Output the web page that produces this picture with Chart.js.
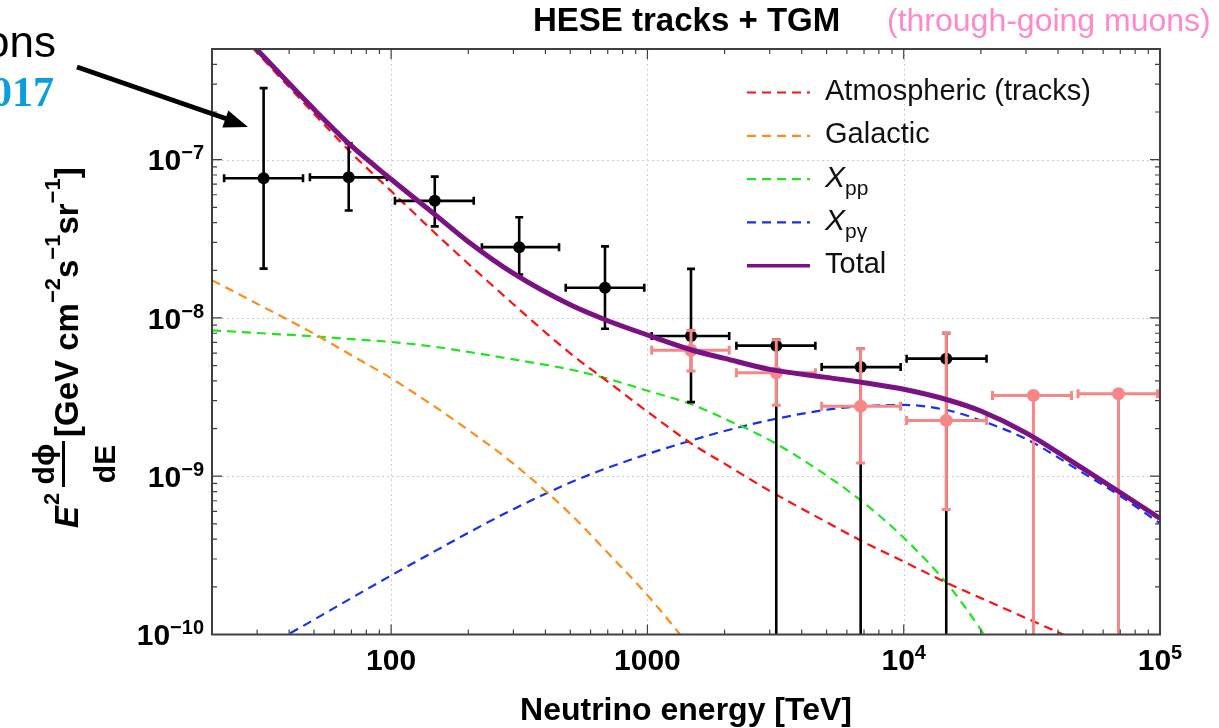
<!DOCTYPE html>
<html>
<head>
<meta charset="utf-8">
<script src="https://cdn.jsdelivr.net/npm/chart.js@4.4.1/dist/chart.umd.min.js"></script>
<style>
  html, body { margin: 0; padding: 0; background: #fff; }
  #wrap { position: relative; width: 1219px; height: 728px; }
</style>
</head>
<body>
<div id="wrap"><canvas id="chart"></canvas></div>
<script>
const energyGrid = [20, 30, 50, 70, 100, 150, 200, 300, 500, 700, 1000, 1500, 2000, 3000, 5000, 7000, 1e4, 1.5e4, 2e4, 3e4, 5e4, 7e4, 1e5];

// E^2 dphi/dE model curves (GeV cm^-2 s^-1 sr^-1)
const atmospheric = [9.7e-7, 4.74e-7, 1.95e-7, 1.10e-7, 6.33e-8, 3.38e-8, 2.20e-8, 1.22e-8, 5.97e-9, 3.96e-9, 2.56e-9, 1.59e-9, 1.20e-9, 8.08e-10, 5.13e-10, 3.83e-10, 2.89e-10, 2.09e-10, 1.70e-10, 1.27e-10, 8.8e-11, 6.9e-11, 5.4e-11];
const galactic = [1.73e-8, 1.23e-8, 7.95e-9, 5.81e-9, 4.16e-9, 2.71e-9, 1.96e-9, 1.20e-9, 5.78e-10, 3.28e-10, 1.77e-10, 8.0e-11, 4.5e-11, null, null, null, null, null, null, null, null, null, null];
const xpp = [8.35e-9, 8.03e-9, 7.65e-9, 7.35e-9, 7.05e-9, 6.55e-9, 6.10e-9, 5.47e-9, 4.72e-9, 4.13e-9, 3.47e-9, 2.83e-9, 2.31e-9, 1.69e-9, 1.01e-9, 6.77e-10, 4.09e-10, 2.03e-10, 1.07e-10, 3.75e-11, null, null, null];
const xpg = [5.33e-11, 7.76e-11, 1.24e-10, 1.70e-10, 2.36e-10, 3.40e-10, 4.39e-10, 6.19e-10, 9.12e-10, 1.13e-9, 1.38e-9, 1.69e-9, 1.93e-9, 2.26e-9, 2.63e-9, 2.77e-9, 2.82e-9, 2.60e-9, 2.25e-9, 1.72e-9, 1.05e-9, 7.49e-10, 5.03e-10];
const total = [1.0e-6, 4.95e-7, 2.08e-7, 1.22e-7, 7.52e-8, 4.43e-8, 3.03e-8, 1.91e-8, 1.21e-8, 9.60e-9, 7.80e-9, 6.25e-9, 5.55e-9, 4.73e-9, 4.21e-9, 3.90e-9, 3.54e-9, 3.02e-9, 2.58e-9, 1.88e-9, 1.12e-9, 7.89e-10, 5.41e-10];

// HESE tracks (black points)
const heseE = [31.8, 68.3, 148, 316, 683, 1479, 3182, 6792, 14656];
const heseELo = [22.3, 48.2, 103.5, 226, 480, 1039, 2224, 4785, 10264];
const heseEHi = [45.3, 96.3, 210, 452, 972, 2085, 4522, 9727, 21045];
const heseFlux = [7.62e-8, 7.73e-8, 5.49e-8, 2.80e-8, 1.55e-8, 7.68e-9, 6.68e-9, 4.89e-9, 5.53e-9];
const heseUp = [2.83e-7, 1.27e-7, 7.81e-8, 4.33e-8, 2.83e-8, 2.04e-8, 7.31e-9, 6.39e-9, 8.02e-9];
const heseDown = [2.05e-8, 4.77e-8, 3.79e-8, 1.88e-8, 8.55e-9, 2.94e-9, 1e-11, 1e-11, 1e-11];

// through-going muons (pink points)
const tgmE = [1479, 3182, 6792, 14656, 32080, 68860];
const tgmELo = [1039, 2224, 4785, 10264, 22200, 47880];
const tgmEHi = [2085, 4522, 9727, 21045, 45190, 97760];
const tgmFlux = [6.24e-9, 4.51e-9, 2.77e-9, 2.25e-9, 3.24e-9, 3.32e-9];
const tgmUp = [8.34e-9, 7.28e-9, 6.39e-9, 8.02e-9, null, null];
const tgmDown = [4.62e-9, 2.81e-9, 1.21e-9, 6.17e-10, 1e-11, 1e-11];

// axis ticks
const xMajorTicks = [100, 1000, 1e4, 1e5];
const xTickLabels = [['100'], ['1000'], ['10', '4'], ['10', '5']];
const yMajorTicks = [1e-10, 1e-9, 1e-8, 1e-7];
const yTickLabels = [['10', '\u221210'], ['10', '\u22129'], ['10', '\u22128'], ['10', '\u22127']];

const SANS = '"Liberation Sans", Arial, Helvetica, sans-serif';
const PINK = '#f78787';
const DASH = [9, 6];

function curve(values) {
    return energyGrid.map((e, i) => ({ x: e, y: values[i] }));
}
function points(es, fs) {
    return es.map((e, i) => ({ x: e, y: fs[i] }));
}

// draw a list of text pieces one after the other, returns the width
function drawRuns(ctx, runs, x, y, measureOnly) {
    let cx = x;
    runs.forEach(r => {
        ctx.font = r.font;
        if (!measureOnly) ctx.fillText(r.text, cx, y + (r.dy || 0));
        cx += ctx.measureText(r.text).width + (r.gap || 0);
    });
    return cx - x;
}

function powRuns(parts, size, expSize, raise) {
    const runs = [{ text: parts[0], font: `bold ${size}px ${SANS}` }];
    if (parts[1]) runs.push({ text: parts[1], font: `bold ${expSize}px ${SANS}`, dy: -raise });
    return runs;
}

const errorBars = {
    id: 'errorBars',
    beforeDatasetDraw(chart, args) {
        const ds = chart.data.datasets[args.index];
        if (!ds.errors) return;
        const { ctx, chartArea: a } = chart;
        const xs = chart.scales.x, ys = chart.scales.y;
        const e = ds.errors;
        ctx.save();
        ctx.beginPath();
        ctx.rect(a.left, a.top, a.right - a.left, a.bottom - a.top);
        ctx.clip();
        ctx.strokeStyle = ds.backgroundColor;
        ctx.lineWidth = e.width;
        ctx.lineCap = 'butt';
        ds.data.forEach((p, i) => {
            const px = xs.getPixelForValue(p.x), py = ys.getPixelForValue(p.y);
            const x0 = xs.getPixelForValue(e.lo[i]), x1 = xs.getPixelForValue(e.hi[i]);
            ctx.beginPath();
            ctx.moveTo(x0, py); ctx.lineTo(x1, py);
            ctx.moveTo(x0, py - e.cap); ctx.lineTo(x0, py + e.cap);
            ctx.moveTo(x1, py - e.cap); ctx.lineTo(x1, py + e.cap);
            const yTop = e.up[i] != null ? ys.getPixelForValue(e.up[i]) : py;
            const yBot = ys.getPixelForValue(e.down[i]);
            ctx.moveTo(px, yTop); ctx.lineTo(px, yBot);
            if (e.up[i] != null) { ctx.moveTo(px - e.cap, yTop); ctx.lineTo(px + e.cap, yTop); }
            ctx.moveTo(px - e.cap, yBot); ctx.lineTo(px + e.cap, yBot);
            ctx.stroke();
        });
        ctx.restore();
    }
};

const legendItems = [
    { color: '#ff1010', dash: true, runs: [{ text: 'Atmospheric (tracks)' }] },
    { color: '#ff8c1a', dash: true, runs: [{ text: 'Galactic' }] },
    { color: '#1ee61e', dash: true, runs: [{ text: 'X', italic: true }, { text: 'pp', sub: true }] },
    { color: '#1530f0', dash: true, runs: [{ text: 'X', italic: true }, { text: 'p\u03b3', sub: true }] },
    { color: '#7b1283', dash: false, runs: [{ text: 'Total' }] }
];

const frameAndText = {
    id: 'frameAndText',
    beforeDatasetsDraw(chart) {
        const { ctx, chartArea: a } = chart;
        const xs = chart.scales.x, ys = chart.scales.y;
        ctx.save();
        ctx.strokeStyle = '#cdcdcd';
        ctx.lineWidth = 1;
        ctx.setLineDash([2, 3]);
        [100, 1000, 1e4].forEach(v => {
            const x = Math.round(xs.getPixelForValue(v)) + 0.5;
            ctx.beginPath(); ctx.moveTo(x, a.top); ctx.lineTo(x, a.bottom); ctx.stroke();
        });
        [1e-9, 1e-8, 1e-7].forEach(v => {
            const y = Math.round(ys.getPixelForValue(v)) + 0.5;
            ctx.beginPath(); ctx.moveTo(a.left, y); ctx.lineTo(a.right, y); ctx.stroke();
        });
        ctx.restore();
    },
    afterDraw(chart) {
        const { ctx, chartArea: a } = chart;
        const xs = chart.scales.x, ys = chart.scales.y;
        ctx.save();

        // frame and inner ticks
        ctx.strokeStyle = '#404040';
        ctx.lineWidth = 1.2;
        for (let d = 10; d <= 1e5; d *= 10) {
            for (let m = 1; m <= 9; m++) {
                const v = m * d;
                if (v < 20 || v > 1e5) continue;
                const x = xs.getPixelForValue(v);
                const len = m === 1 ? 10 : 5;
                ctx.beginPath();
                ctx.moveTo(x, a.bottom); ctx.lineTo(x, a.bottom - len);
                ctx.moveTo(x, a.top); ctx.lineTo(x, a.top + len);
                ctx.stroke();
            }
        }
        for (let d = 1e-10; d < 6e-7; d *= 10) {
            for (let m = 1; m <= 9; m++) {
                const v = m * d;
                if (v < 1e-10 || v > 5e-7) continue;
                const y = ys.getPixelForValue(v);
                const len = m === 1 ? 10 : 5;
                ctx.beginPath();
                ctx.moveTo(a.left, y); ctx.lineTo(a.left + len, y);
                ctx.moveTo(a.right, y); ctx.lineTo(a.right - len, y);
                ctx.stroke();
            }
        }
        ctx.lineWidth = 2;
        ctx.strokeRect(a.left, a.top, a.right - a.left, a.bottom - a.top);

        // tick labels
        ctx.fillStyle = '#000';
        ctx.textBaseline = 'alphabetic';
        ctx.textAlign = 'left';
        xMajorTicks.forEach((v, i) => {
            const runs = powRuns(xTickLabels[i], 30, 20, 11);
            const w = drawRuns(ctx, runs, 0, 0, true);
            drawRuns(ctx, runs, xs.getPixelForValue(v) - w / 2, 670);
        });
        yMajorTicks.forEach((v, i) => {
            const runs = powRuns(yTickLabels[i], 30, 20, 11);
            const w = drawRuns(ctx, runs, 0, 0, true);
            drawRuns(ctx, runs, 204 - w, ys.getPixelForValue(v) + 10.7);
        });

        // x axis title
        ctx.font = `bold 32px ${SANS}`;
        ctx.textAlign = 'center';
        ctx.fillText('Neutrino energy [TeV]', (a.left + a.right) / 2, 720);

        // chart title
        ctx.textAlign = 'left';
        ctx.font = `bold 33px ${SANS}`;
        ctx.fillText('HESE tracks + TGM', 533, 31);
        ctx.fillStyle = '#ff88cc';
        ctx.font = `32px ${SANS}`;
        ctx.fillText('(through-going muons)', 887, 31);

        // y axis title, rotated
        ctx.save();
        ctx.fillStyle = '#000';
        ctx.translate(78, 528);
        ctx.rotate(-Math.PI / 2);
        ctx.font = `italic bold 33px ${SANS}`;
        ctx.fillText('E', 0, 0);
        const wE = ctx.measureText('E').width;
        ctx.font = `bold 22px ${SANS}`;
        ctx.fillText('2', wE + 1, -19);
        const fx = 41, fw = 46;
        ctx.fillRect(fx, -16, fw, 3);
        ctx.font = `bold 30px ${SANS}`;
        ctx.textAlign = 'center';
        ctx.fillText('d\u03d5', fx + fw / 2, -24);
        ctx.fillText('dE', fx + fw / 2, 37);
        ctx.textAlign = 'left';
        const unitFont = `bold 33px ${SANS}`, expFont = `bold 22px ${SANS}`;
        drawRuns(ctx, [
            { text: '[GeV cm', font: unitFont },
            { text: '\u22122', font: expFont, dy: -18 },
            { text: 's', font: unitFont },
            { text: '\u22121', font: expFont, dy: -18 },
            { text: 'sr', font: unitFont },
            { text: '\u22121', font: expFont, dy: -18 },
            { text: ']', font: unitFont }
        ], 91, 0);
        ctx.restore();

        // legend inside the plot
        legendItems.forEach((item, i) => {
            const ly = 92.5 + i * 43.3;
            ctx.strokeStyle = item.color;
            ctx.lineWidth = item.dash ? 2.2 : 3.5;
            ctx.setLineDash(item.dash ? DASH : []);
            ctx.beginPath(); ctx.moveTo(747, ly); ctx.lineTo(810, ly); ctx.stroke();
            ctx.setLineDash([]);
            ctx.fillStyle = '#111';
            const runs = item.runs.map(r => ({
                text: r.text,
                font: r.sub ? `21px ${SANS}` : (r.italic ? `italic 30px ${SANS}` : `29px ${SANS}`),
                dy: r.sub ? 8 : 0
            }));
            drawRuns(ctx, runs, 825, ly + 7.5);
        });

        // fragments of the slide around the figure
        ctx.fillStyle = '#000';
        ctx.textAlign = 'right';
        ctx.font = `44px ${SANS}`;
        ctx.fillText('ons', 56, 57);
        ctx.fillStyle = '#0a9fdc';
        ctx.font = 'bold 42px "Liberation Serif", "Times New Roman", serif';
        ctx.fillText('017', 54, 106);

        // arrow
        ctx.strokeStyle = '#000';
        ctx.fillStyle = '#000';
        ctx.lineWidth = 5;
        ctx.beginPath(); ctx.moveTo(77, 67); ctx.lineTo(230, 120); ctx.stroke();
        const ang = Math.atan2(127 - 67, 248 - 77);
        ctx.save();
        ctx.translate(248, 127);
        ctx.rotate(ang);
        ctx.beginPath(); ctx.moveTo(0, 0); ctx.lineTo(-24, -9); ctx.lineTo(-24, 9); ctx.closePath(); ctx.fill();
        ctx.restore();

        ctx.restore();
    }
};

new Chart(document.getElementById('chart'), {
    type: 'line',
    data: {
        datasets: [
            { label: 'Total', data: curve(total), borderColor: '#7b1283', borderWidth: 5, pointRadius: 0, order: 0 },
            {
                type: 'scatter', label: 'TGM', data: points(tgmE, tgmFlux),
                backgroundColor: PINK, borderColor: PINK, pointRadius: 6.5, borderWidth: 0, order: 1,
                errors: { lo: tgmELo, hi: tgmEHi, up: tgmUp, down: tgmDown, width: 3, cap: 4.5 }
            },
            {
                type: 'scatter', label: 'HESE tracks', data: points(heseE, heseFlux),
                backgroundColor: '#000', borderColor: '#000', pointRadius: 6, borderWidth: 0, order: 2,
                errors: { lo: heseELo, hi: heseEHi, up: heseUp, down: heseDown, width: 2.6, cap: 4 }
            },
            { label: 'Atmospheric (tracks)', data: curve(atmospheric), borderColor: '#ff1010', borderWidth: 2.2, borderDash: DASH, pointRadius: 0, order: 3 },
            { label: 'Galactic', data: curve(galactic), borderColor: '#ff8c1a', borderWidth: 2.2, borderDash: DASH, pointRadius: 0, order: 4 },
            { label: 'Xpp', data: curve(xpp), borderColor: '#1ee61e', borderWidth: 2.2, borderDash: DASH, pointRadius: 0, order: 5 },
            { label: 'Xpg', data: curve(xpg), borderColor: '#1530f0', borderWidth: 2.2, borderDash: DASH, pointRadius: 0, order: 6 }
        ]
    },
    options: {
        responsive: true,
        maintainAspectRatio: false,
        animation: false,
        layout: { padding: { left: 212, top: 49, right: 59, bottom: 93.5 } },
        elements: { line: { cubicInterpolationMode: 'monotone', fill: false } },
        datasets: { line: { clip: 0, spanGaps: false } },
        scales: {
            x: { type: 'logarithmic', min: 20, max: 1e5, display: false },
            y: { type: 'logarithmic', min: 1e-10, max: 5e-7, display: false }
        },
        plugins: {
            legend: { display: false },
            tooltip: { enabled: false },
            title: { display: false }
        }
    },
    plugins: [errorBars, frameAndText]
});
</script>
</body>
</html>
